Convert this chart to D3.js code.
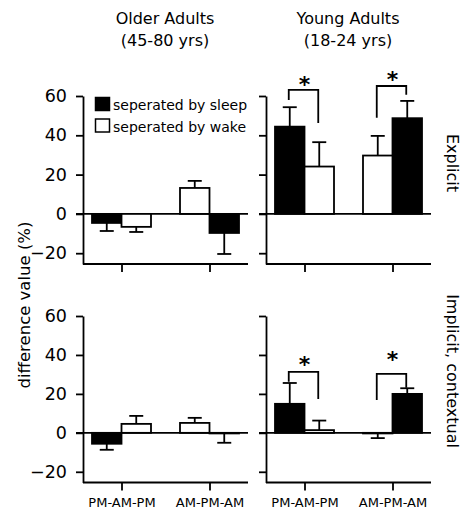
<!DOCTYPE html>
<html>
<head>
<meta charset="utf-8">
<script src="https://cdn.jsdelivr.net/npm/d3@7"></script>
<style>
  body { margin: 0; background: #fff; }
  svg { display: block; font-family: "DejaVu Sans", sans-serif; }
</style>
</head>
<body>
<svg id="chart" width="461" height="511"></svg>
<script>
var categories = ["PM-AM-PM", "AM-PM-AM"];
var sleepFirst = [true, false];   // sleep bar is on the left in PM-AM-PM
var ageGroups = ["Older Adults", "Young Adults"];
var ageRanges = ["(45-80 yrs)", "(18-24 yrs)"];
var measures = ["Explicit", "Implicit, contextual"];
var yTicks = [-20, 0, 20, 40, 60];
var legendLabels = ["seperated by sleep", "seperated by wake"];

// explicit
var olderExplicitSleep = [-4.6, -9.7], olderExplicitSleepErr = [4.1, 10.7];
var olderExplicitWake = [-6.6, 13.2], olderExplicitWakeErr = [2.6, 3.6];
var youngExplicitSleep = [44.4, 48.7], youngExplicitSleepErr = [9.9, 8.8];
var youngExplicitWake = [24.1, 29.7], youngExplicitWakeErr = [12.4, 10.0];
// implicit, contextual
var olderImplicitSleep = [-5.6, -0.3], olderImplicitSleepErr = [3.1, 4.8];
var olderImplicitWake = [4.6, 5.1], olderImplicitWakeErr = [4.1, 2.6];
var youngImplicitSleep = [14.9, 20.0], youngImplicitSleepErr = [10.7, 2.9];
var youngImplicitWake = [1.4, -0.3], youngImplicitWakeErr = [4.9, 2.4];

// significance brackets (young adults), in data units
var youngExplicitBracketTop = [63.1, 65.1], youngExplicitBracketLeft = [58, 48.9], youngExplicitBracketRight = [46.3, 60.6], youngExplicitStar = [68.2, 70.7];
var youngImplicitBracketTop = [31.3, 30.3], youngImplicitBracketLeft = [26.2, 16.9], youngImplicitBracketRight = [17.4, 23.1], youngImplicitStar = [37.4, 40];

var panels = [
  {row: 0, col: 0, sleep: olderExplicitSleep, sleepErr: olderExplicitSleepErr, wake: olderExplicitWake, wakeErr: olderExplicitWakeErr},
  {row: 0, col: 1, sleep: youngExplicitSleep, sleepErr: youngExplicitSleepErr, wake: youngExplicitWake, wakeErr: youngExplicitWakeErr,
    br: {top: youngExplicitBracketTop, left: youngExplicitBracketLeft, right: youngExplicitBracketRight, star: youngExplicitStar}},
  {row: 1, col: 0, sleep: olderImplicitSleep, sleepErr: olderImplicitSleepErr, wake: olderImplicitWake, wakeErr: olderImplicitWakeErr},
  {row: 1, col: 1, sleep: youngImplicitSleep, sleepErr: youngImplicitSleepErr, wake: youngImplicitWake, wakeErr: youngImplicitWakeErr,
    br: {top: youngImplicitBracketTop, left: youngImplicitBracketLeft, right: youngImplicitBracketRight, star: youngImplicitStar}}
];

var svg = d3.select("#chart");
svg.append("rect").attr("width", 461).attr("height", 511).attr("fill", "#fff");

var colX = [83, 266];
var panelW = 165;
var rowY = [[264, 96], [482.5, 316]];
var barW = 29.5;
var capW = 14;
var sw = 1.8;

panels.forEach(function(p) {
  var g = svg.append("g").attr("transform", "translate(" + colX[p.col] + ",0)");

  var x = d3.scalePoint().domain(categories).range([0, panelW]).padding(0.4375);
  var y = d3.scaleLinear().domain([-25.5, 60]).range(rowY[p.row]);

  // zero line
  g.append("line")
    .attr("x1", -7).attr("x2", panelW)
    .attr("y1", y(0)).attr("y2", y(0))
    .attr("stroke", "#000").attr("stroke-width", sw);

  // bars
  var bars = [];
  categories.forEach(function(c, i) {
    var sx = sleepFirst[i] ? x(c) - barW : x(c);
    var wx = sleepFirst[i] ? x(c) : x(c) - barW;
    bars.push({x: sx, v: p.sleep[i], e: p.sleepErr[i], fill: "#000"});
    bars.push({x: wx, v: p.wake[i], e: p.wakeErr[i], fill: "#fff"});
  });

  // error bars (one-sided, away from zero)
  bars.forEach(function(b) {
    var cx = b.x + barW / 2;
    var end = b.v >= 0 ? b.v + b.e : b.v - b.e;
    g.append("line").attr("x1", cx).attr("x2", cx).attr("y1", y(b.v)).attr("y2", y(end))
      .attr("stroke", "#000").attr("stroke-width", sw);
    g.append("line").attr("x1", cx - capW / 2).attr("x2", cx + capW / 2).attr("y1", y(end)).attr("y2", y(end))
      .attr("stroke", "#000").attr("stroke-width", sw);
  });

  g.selectAll("rect.bar").data(bars).enter().append("rect")
    .attr("class", "bar")
    .attr("x", function(d) { return d.x; })
    .attr("width", barW)
    .attr("y", function(d) { return y(Math.max(0, d.v)); })
    .attr("height", function(d) { return Math.abs(y(d.v) - y(0)); })
    .attr("fill", function(d) { return d.fill; })
    .attr("stroke", "#000").attr("stroke-width", sw);

  // axes
  var yAxis = d3.axisLeft(y).tickValues(yTicks).tickSize(7).tickSizeOuter(0).tickPadding(9);
  if (p.col === 1) yAxis.tickFormat("");
  var ya = g.append("g").call(yAxis);
  ya.selectAll("path, line").attr("stroke", "#000").attr("stroke-width", sw);
  ya.selectAll("text").attr("font-size", "17.5px").attr("fill", "#000").attr("font-family", "DejaVu Sans");

  var xAxis = d3.axisBottom(x).tickSize(8).tickSizeOuter(0).tickPadding(7);
  if (p.row === 0) xAxis.tickFormat("");
  var xa = g.append("g").attr("transform", "translate(0," + rowY[p.row][0] + ")").call(xAxis);
  xa.select(".domain").attr("d", "M0,0H" + panelW);
  xa.selectAll("path, line").attr("stroke", "#000").attr("stroke-width", sw);
  xa.selectAll("text").attr("font-size", "13px").attr("fill", "#000").attr("font-family", "DejaVu Sans");

  // significance brackets
  if (p.br) {
    categories.forEach(function(c, i) {
      var lx = x(c) - barW / 2 - 1, rx = x(c) + barW / 2 - 1;
      g.append("path")
        .attr("d", "M" + lx + "," + y(p.br.left[i]) + "V" + y(p.br.top[i]) + "H" + rx + "V" + y(p.br.right[i]))
        .attr("fill", "none").attr("stroke", "#000").attr("stroke-width", sw);
      g.append("text")
        .attr("x", x(c)).attr("y", y(p.br.star[i]) + 12)
        .attr("text-anchor", "middle")
        .attr("font-size", "22px").attr("font-weight", "bold")
        .text("*");
    });
  }

  // legend
  if (p.row === 0 && p.col === 0) {
    var lg = g.append("g").attr("transform", "translate(12,97)");
    legendLabels.forEach(function(l, i) {
      lg.append("rect").attr("x", 0.5).attr("y", i * 21.5 + 0.5).attr("width", 14).attr("height", 13)
        .attr("fill", i === 0 ? "#000" : "#fff").attr("stroke", "#000").attr("stroke-width", 1.5);
      lg.append("text").attr("x", 18).attr("y", i * 21.5 + 13)
        .attr("font-size", "14px").text(l);
    });
  }
});

// column titles
ageGroups.forEach(function(t, i) {
  var cx = colX[i] + panelW / 2 - 0.5;
  svg.append("text").attr("x", cx).attr("y", 24).attr("text-anchor", "middle").attr("font-size", "16px").text(t);
  svg.append("text").attr("x", cx).attr("y", 46).attr("text-anchor", "middle").attr("font-size", "16px").text(ageRanges[i]);
});

// row labels (right side)
var rowCenters = [163, 371];
measures.forEach(function(m, i) {
  svg.append("text")
    .attr("transform", "translate(447," + rowCenters[i] + ") rotate(90)")
    .attr("text-anchor", "middle").attr("font-size", "16px").text(m);
});

// y axis title
svg.append("text")
  .attr("transform", "translate(30,305) rotate(-90)")
  .attr("text-anchor", "middle").attr("font-size", "16.5px")
  .text("difference value (%)");
</script>
</body>
</html>
